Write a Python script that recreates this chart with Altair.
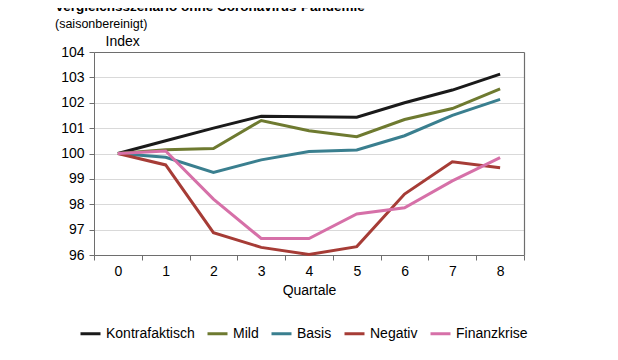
import altair as alt
import pandas as pd

quarters = [0, 1, 2, 3, 4, 5, 6, 7, 8]
series = ["Kontrafaktisch", "Mild", "Basis", "Negativ", "Finanzkrise"]
colors = ["#1a1a1a", "#6e7a30", "#3a7f8f", "#a63c36", "#d670a8"]

kontrafaktisch = [100.0, 100.5, 101.0, 101.47, 101.45, 101.43, 102.0, 102.5, 103.13]
mild = [100.0, 100.15, 100.2, 101.3, 100.9, 100.66, 101.34, 101.77, 102.55]
basis = [100.0, 99.85, 99.25, 99.75, 100.08, 100.14, 100.7, 101.5, 102.13]
negativ = [100.0, 99.55, 96.88, 96.3, 96.02, 96.33, 98.4, 99.67, 99.44]
finanzkrise = [100.0, 100.1, 98.2, 96.65, 96.65, 97.62, 97.86, 98.92, 99.84]

values = [kontrafaktisch, mild, basis, negativ, finanzkrise]
rows = []
for name, vals in zip(series, values):
    for q, v in zip(quarters, vals):
        rows.append({"Quartal": q, "Wert": v, "Szenario": name})
df = pd.DataFrame(rows)

FONT = "Liberation Sans"
AXIS_COLOR = "#6e6e6e"

x_scale = alt.Scale(paddingInner=0, paddingOuter=0)
y_scale = alt.Scale(domain=[96, 104], nice=False, zero=False)

lines = alt.Chart(df).mark_line(strokeWidth=3).encode(
    x=alt.X("Quartal:O", title="Quartale", scale=x_scale,
            axis=alt.Axis(labelAngle=0, tickBand="extent", tickSize=5,
                          labelFontSize=14, titleFontSize=14, titleFontWeight="normal",
                          labelPadding=4, titlePadding=5,
                          domainColor=AXIS_COLOR, tickColor=AXIS_COLOR,
                          labelColor="#000000", titleColor="#000000", grid=False)),
    y=alt.Y("Wert:Q", title="Index", scale=y_scale,
            axis=alt.Axis(values=[96, 97, 98, 99, 100, 101, 102, 103, 104], tickSize=5,
                          labelFontSize=14, titleFontSize=14, titleFontWeight="normal",
                          titleAngle=0, titleX=11, titleY=-4, titleAlign="left",
                          titleBaseline="bottom",
                          domainColor=AXIS_COLOR, tickColor=AXIS_COLOR,
                          gridColor="#d9d9d9", labelColor="#000000", titleColor="#000000",
                          labelPadding=5)),
    color=alt.Color("Szenario:N", sort=series,
                    scale=alt.Scale(domain=series, range=colors),
                    legend=alt.Legend(orient="none", legendX=-15, legendY=270,
                                      direction="horizontal", columns=5, title=None,
                                      symbolType="stroke", symbolSize=400,
                                      symbolStrokeWidth=3, labelFontSize=14,
                                      labelOffset=4, columnPadding=6,
                                      labelColor="#000000")),
    order=alt.Order("Quartal:O"),
)

frame = alt.Chart(df).mark_line(opacity=0).encode(
    x=alt.X("Quartal:O", scale=x_scale,
            axis=alt.Axis(orient="top", labels=False, ticks=False, title=None,
                          grid=False, domainColor=AXIS_COLOR, domainWidth=1.2)),
    y=alt.Y("Wert:Q", scale=y_scale,
            axis=alt.Axis(orient="right", labels=False, ticks=False, title=None,
                          grid=False, domainColor=AXIS_COLOR, domainWidth=1.2)),
    detail="Szenario:N",
)

chart = alt.layer(lines, frame).resolve_axis(
    x="independent", y="independent"
).properties(
    width=430,
    height=203,
    title=alt.TitleParams(
        text="Vergleichsszenario ohne Coronavirus-Pandemie",
        subtitle="(saisonbereinigt)",
        anchor="start", frame="group", dx=-39, offset=4,
        fontSize=13.5, subtitleFontSize=12.5, font=FONT, subtitleFont=FONT,
        fontWeight="bold", color="#000000", subtitleColor="#000000",
        subtitlePadding=4,
    ),
    autosize=alt.AutoSizeParams(type="none"),
    padding={"left": 86, "top": 44, "right": 80, "bottom": 95},
).configure(font=FONT).configure_view(
    stroke=None
)

chart.save("out.html", embed_options={"renderer": "svg", "actions": False})
